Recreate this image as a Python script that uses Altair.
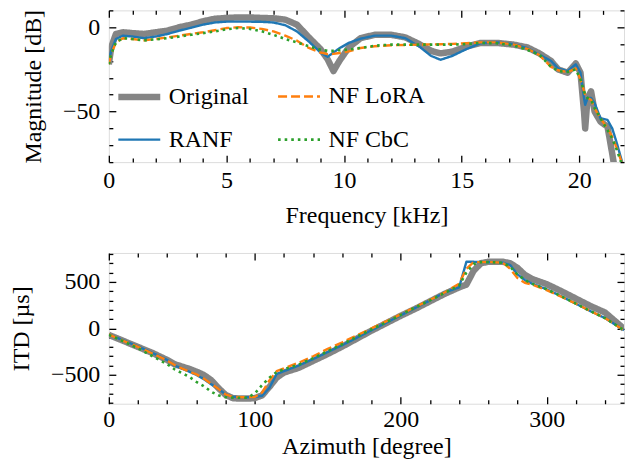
import altair as alt
import pandas as pd

FONT = "Liberation Serif"
FS = 24

# ---------------- top panel: magnitude spectrum ----------------
freq_khz = [0.0, 0.1, 0.3, 0.6, 1.0, 1.5, 2.0, 2.5, 3.0, 3.5, 4.0, 4.5, 5.0, 5.5,
            6.0, 6.5, 7.0, 7.5, 8.0, 8.5, 9.0, 9.3, 9.55, 9.8, 10.2, 10.7, 11.3,
            12.0, 12.6, 13.2, 13.7, 14.1, 14.6, 15.2, 15.8, 16.5, 17.2, 17.8,
            18.3, 18.8, 19.1, 19.5, 19.85, 20.05, 20.2, 20.25, 20.35, 20.5,
            20.65, 20.9, 21.2, 21.4, 21.6, 21.9]
mag_original = [-22, -12, -4, -3, -3.5, -4, -3, -2, 0, 1.5, 3.5, 5, 5.5, 5.8,
                5.8, 5.5, 5.3, 4.5, 1.5, -6, -13, -19, -26, -20, -12, -6.5, -4.5,
                -4.5, -6, -10, -14, -15.5, -14.5, -11.5, -9.3, -9.3, -10.3, -12,
                -15.5, -20, -25, -27, -21.5, -27, -50, -60, -42, -38,
                -50, -56, -59, -75, -92, -100]
mag_ranf = [-20, -14, -7, -5, -5.5, -6.5, -5.5, -4, -2, -0.3, 1.5, 2.8, 3.3, 3.3,
            3.3, 3.2, 2.8, 1.2, -2.5, -8.5, -15, -17.5, -15, -12.5, -9.3, -6.8, -5,
            -5, -6.5, -11.5, -17, -19.3, -17, -13, -9.5, -9, -10, -12.5,
            -16.3, -20, -24.5, -26, -22, -27, -42, -46, -42, -42,
            -45, -54, -55, -60, -69, -84]
mag_lora = [-22, -16, -9, -6.5, -7, -7.8, -7, -6, -5, -4, -3, -1.8, -0.5, 0,
            -0.2, -1, -2.5, -5, -8, -12.3, -15, -16, -15.8, -15.3, -14.3, -12.3, -11.3,
            -10.7, -10.5, -10.3, -10.2, -10.1, -9.9, -9.5, -9, -9, -10.2, -12.8,
            -16.5, -23.5, -25.5, -26.6, -24.5, -31, -38, -40, -42, -43,
            -48, -54, -60, -65, -72, -84]
mag_cbc = [-22, -16, -9, -6.5, -7, -7.8, -7.2, -6.5, -5.5, -4.5, -3.5, -2.5, -1.2, -0.5,
           -1, -2.4, -4.5, -7, -9, -11.3, -13.3, -14, -14, -13.6, -13.3, -12.3, -11,
           -10.3, -10.3, -10.3, -10.3, -10.3, -10.3, -10, -9.3, -9.5, -10.8, -13.5,
           -16.3, -23.5, -26, -26.5, -25, -31, -38, -40, -42, -43,
           -48, -54, -61, -66, -73, -85]

# ---------------- bottom panel: ITD ----------------
azimuth_deg = [0, 10, 20, 30, 40, 45, 50, 55, 60, 65, 70, 75, 80, 85, 90, 95, 100,
               105, 110, 115, 120, 130, 140, 150, 160, 170, 180, 190, 200, 210,
               220, 230, 240, 245, 250, 255, 260, 270, 275, 280, 285, 290, 300,
               310, 320, 330, 340, 353]
itd_original = [-70, -135, -200, -265, -340, -385, -410, -435, -465, -500, -555, -640,
                -715, -750, -755, -755, -750, -720, -630, -530, -475, -425, -350,
                -275, -195, -110, -25, 55, 135, 210, 290, 370, 440, 470, 620, 700,
                715, 715, 700, 650, 575, 530, 475, 400, 320, 240, 170, -5]
itd_ranf = [-65, -130, -195, -265, -340, -400, -430, -465, -500, -545, -600, -650,
            -710, -735, -740, -740, -738, -725, -640, -490, -460, -400, -330,
            -255, -180, -100, -20, 60, 140, 220, 300, 385, 440, 715, 715, 712,
            712, 705, 680, 580, 520, 480, 420, 345, 265, 185, 110, -20]
itd_lora = [-65, -135, -200, -270, -345, -395, -430, -465, -495, -540, -595, -650,
            -710, -735, -740, -740, -738, -690, -560, -460, -430, -370, -300,
            -220, -150, -75, 0, 75, 150, 230, 305, 385, 480, 640, 712, 712,
            712, 705, 640, 540, 490, 470, 410, 340, 265, 185, 110, -20]
itd_cbc = [-70, -140, -215, -300, -385, -440, -480, -520, -575, -620, -680, -720,
           -740, -745, -745, -745, -700, -610, -530, -470, -440, -390, -320,
           -245, -170, -90, -10, 65, 145, 225, 300, 380, 460, 600, 690, 712,
           712, 705, 660, 580, 520, 480, 420, 345, 265, 185, 110, -20]

series_names = ["Original", "RANF", "NF LoRA", "NF CbC"]
series_color = {"Original": "#858585", "RANF": "#1f77b4", "NF LoRA": "#ff7f0e", "NF CbC": "#2ca02c"}
series_width = {"Original": 6.5, "RANF": 2.4, "NF LoRA": 2.4, "NF CbC": 2.6}
series_dash = {"Original": [1, 0], "RANF": [1, 0], "NF LoRA": [9, 4], "NF CbC": [2.6, 4]}


def long_table(x, ys, xname, yname):
    rows = []
    for name, vals in zip(series_names, ys):
        for xv, yv in zip(x, vals):
            rows.append({xname: xv, yname: yv, "series": name})
    return pd.DataFrame(rows)


df_top = long_table(freq_khz, [mag_original, mag_ranf, mag_lora, mag_cbc], "freq", "mag")
df_bot = long_table(azimuth_deg, [itd_original, itd_ranf, itd_lora, itd_cbc], "az", "itd")

axis_style = dict(labelFont=FONT, labelFontSize=FS, labelColor="black",
                  titleFont=FONT, titleFontSize=FS, titleColor="black",
                  titleFontWeight="normal", tickColor="black", tickWidth=1.3,
                  domain=False, grid=False, labelFlush=False, labelOverlap=False,
                  minExtent=0)


def axes_for(orient_main, orient_opp, major, minor, title, label_pad, title_pad):
    return [
        alt.Axis(orient=orient_main, values=major, tickSize=7, offset=-7, labels=True,
                 labelPadding=label_pad, title=title, titlePadding=title_pad,
                 format="d", **axis_style),
        alt.Axis(orient=orient_opp, values=major, tickSize=7, offset=-7, labels=False,
                 title=None, **axis_style),
        alt.Axis(orient=orient_main, values=minor, tickSize=4, offset=-4, labels=False,
                 title=None, **axis_style),
        alt.Axis(orient=orient_opp, values=minor, tickSize=4, offset=-4, labels=False,
                 title=None, **axis_style),
    ]


PLOT_W = 516


def panel(df, xf, yf, xdom, ydom, xmaj, xmin, ymaj, ymin, xtitle, ytitle, h, legend,
          xlabel_pad, xtitle_pad):
    xaxes = axes_for("bottom", "top", xmaj, xmin, xtitle, xlabel_pad, xtitle_pad)
    yaxes = axes_for("left", "right", ymaj, ymin, ytitle, 9, 17)
    leg = legend if legend is not None else None
    layers = []
    for i, s in enumerate(series_names):
        enc = dict(
            x=alt.X(f"{xf}:Q", scale=alt.Scale(domain=xdom, nice=False, zero=False), axis=xaxes[i]),
            y=alt.Y(f"{yf}:Q", scale=alt.Scale(domain=ydom, nice=False, zero=False), axis=yaxes[i]),
            color=alt.Color("series:N", scale=alt.Scale(domain=series_names, range=[series_color[k] for k in series_names]), legend=leg),
            strokeDash=alt.StrokeDash("series:N", scale=alt.Scale(domain=series_names, range=[series_dash[k] for k in series_names]), legend=leg),
            strokeWidth=alt.StrokeWidth("series:N", scale=alt.Scale(type="ordinal", domain=series_names, range=[series_width[k] for k in series_names]), legend=leg),
        )
        layers.append(
            alt.Chart(df).transform_filter(alt.datum.series == s)
            .mark_line(clip=True, strokeCap="butt", strokeJoin="round")
            .encode(**enc)
        )
    return alt.layer(*layers).resolve_axis(x="independent", y="independent").properties(width=PLOT_W, height=h)


legend_top = alt.Legend(orient="none", legendX=6, legendY=62, columns=2, columnPadding=24,
                        rowPadding=7, symbolType="stroke", symbolSize=1764, labelFont=FONT,
                        labelFontSize=FS, labelColor="black", labelOffset=5, title=None,
                        padding=0)

top = panel(df_top, "freq", "mag", [0, 21.9], [-80, 10], [0, 5, 10, 15, 20],
            [1, 2, 3, 4, 6, 7, 8, 9, 11, 12, 13, 14, 16, 17, 18, 19, 21],
            [-50, 0], [-80, -70, -60, -40, -30, -20, -10, 10],
            "Frequency [kHz]", "Magnitude [dB]", 152, legend_top, 6, 11)

bottom = panel(df_bot, "az", "itd", [0, 353], [-810, 810], [0, 100, 200, 300],
               [20, 40, 60, 80, 120, 140, 160, 180, 220, 240, 260, 280, 320, 340],
               [-500, 0, 500], [-800, -700, -600, -400, -300, -200, -100, 100, 200, 300, 400, 600, 700, 800],
               "Azimuth [degree]", "ITD [µs]", 151, None, 4, 3)

chart = alt.vconcat(top, bottom, spacing=23).resolve_scale(
    x="independent", y="independent", color="independent",
    strokeDash="independent", strokeWidth="independent"
).properties(
    padding={"left": 0, "top": 0, "right": 0, "bottom": 0}
).configure_view(stroke="black", strokeWidth=2).configure(font=FONT)

chart.save("out.html", embed_options={"renderer": "svg", "actions": False})
